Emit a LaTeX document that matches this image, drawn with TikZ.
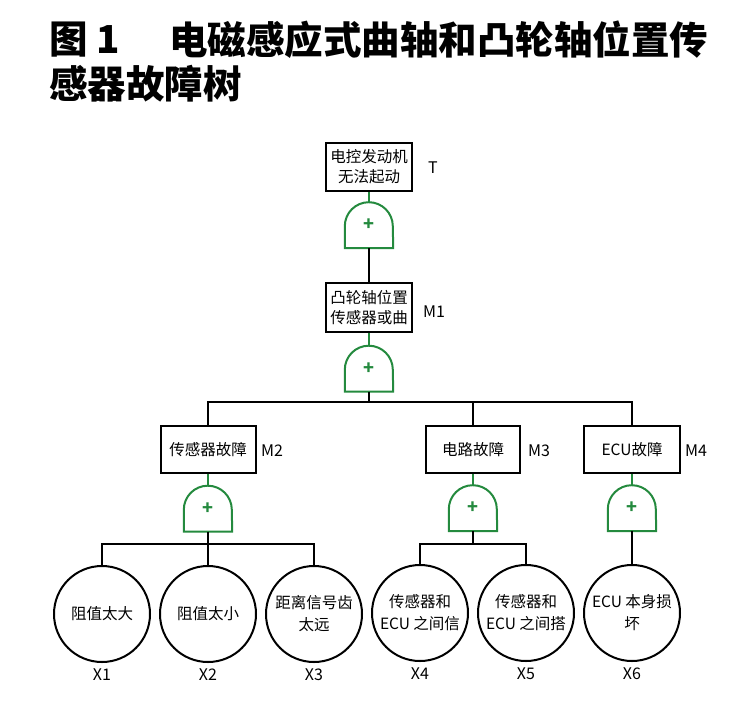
\documentclass[tikz,border=0pt]{standalone}
\usepackage{fontspec}
\setmainfont{Noto Sans CJK SC}
\usetikzlibrary{positioning}
\definecolor{gategreen}{RGB}{36,138,62}
\newcommand{\gatecolor}{gategreen}
\newcommand{\thickness}{2pt}
\tikzset{
  event/.style={draw, line width=\thickness, align=center, inner sep=0pt,
    font=\fontsize{15.5}{20}\selectfont},
  basic/.style={draw, circle, line width=\thickness, minimum size=96pt,
    inner sep=0pt, align=center, font=\fontsize{15.5}{22}\selectfont},
  gatenode/.style={minimum width=48pt, minimum height=46pt, inner sep=0pt,
    text=\gatecolor, font=\bfseries\fontsize{18}{18}\selectfont},
  tag/.style={inner sep=0pt, font=\fontsize{16}{16}\selectfont},
  titlefont/.style={inner sep=0pt, anchor=west, font=\bfseries\fontsize{38.5}{38.5}\selectfont},
  bline/.style={line width=\thickness},
  gline/.style={line width=\thickness, draw=\gatecolor},
}
\newcommand{\orgate}[2]{%
  \node[gatenode] (#1) at #2 {+};
  \draw[gline] (#1.south west) -- ([yshift=22pt]#1.south west)
    arc[start angle=180, end angle=0, radius=24pt] -- (#1.south east) -- cycle;}
\begin{document}
\begin{tikzpicture}[x=1pt,y=-1pt]
\useasboundingbox (0,0) rectangle (744,702);
% title
\node[titlefont] (fig) at (49,40) {图 1};
\node[titlefont] (title1) at (169,40) {电磁感应式曲轴和凸轮轴位置传};
\node[titlefont] (title2) at (49,84) {感器故障树};
% events
\node[event, minimum width=86pt, minimum height=48pt] (T) at (369,167) {电控发动机\\无法起动};
\node[event, minimum width=86pt, minimum height=49pt] (M1) at (369,307.5) {凸轮轴位置\\传感器或曲};
\node[event, minimum width=95pt, minimum height=47pt] (M2) at (208,449.5) {传感器故障};
\node[event, minimum width=94pt, minimum height=47pt] (M3) at (473,449.5) {电路故障};
\node[event, minimum width=96pt, minimum height=47pt, line width=2.8pt] (M4) at (632,449.5) {ECU故障};
\node[tag, anchor=west] (tT) at (428,168) {T};
\node[tag, anchor=west] (tM1) at (423,312) {M1};
\node[tag, anchor=west] (tM2) at (261,451) {M2};
\node[tag, anchor=west] (tM3) at (528,451) {M3};
\node[tag, anchor=west] (tM4) at (685,451) {M4};
% gates
\orgate{g1}{(369,225)}
\orgate{g2}{(369,368.5)}
\orgate{g3}{(208,508.5)}
\orgate{g4}{(473,508)}
\orgate{g5}{(632,508)}
% basic events
\node[basic] (X1) at (102,614) {阻值太大};
\node[basic] (X2) at (208,614) {阻值太小};
\node[basic] (X3) at (314,614) {距离信号齿\\太远};
\node[basic] (X4) at (420,613) {传感器和\\ECU 之间信};
\node[basic] (X5) at (526,613) {传感器和\\ECU 之间搭};
\node[basic] (X6) at (632,613) {ECU 本身损\\坏};
\foreach \i in {1,...,6}
  \node[tag, below=6pt of X\i] (tX\i) {X\i};
% connectors
\draw[gline] (T) -- (g1);
\draw[bline] (g1.south) -- (M1);
\draw[gline] (M1) -- (g2);
\coordinate (j2) at (369,402);
\draw[bline] (g2.south) -- (j2);
\draw[bline] (M2) |- (j2) -| (M4);
\draw[bline] (j2 -| M3) -- (M3);
\draw[gline] (M2) -- (g3);
\draw[gline] (M3) -- (g4);
\draw[gline] (M4) -- (g5);
\coordinate (j3) at (208,544);
\draw[bline] (g3.south) -- (j3);
\draw[bline] (X1) |- (j3) -| (X3);
\draw[bline] (j3) -- (X2);
\coordinate (j4) at (473,544);
\draw[bline] (g4.south) -- (j4);
\draw[bline] (X4) |- (j4) -| (X5);
\draw[bline] (g5.south) -- (X6);
\end{tikzpicture}
\end{document}
